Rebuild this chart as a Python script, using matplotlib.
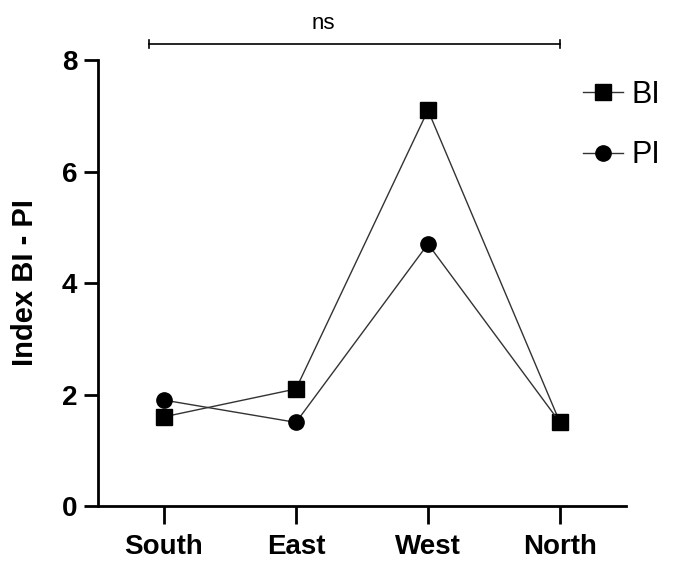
import matplotlib.pyplot as plt

plt.rcParams['font.family'] = ['Liberation Sans', 'DejaVu Sans']

# categories and series
regions = ['South', 'East', 'West', 'North']
bi = [1.6, 2.1, 7.1, 1.5]
pi = [1.9, 1.5, 4.7, 1.5]
x = list(range(len(regions)))

fig = plt.figure(figsize=(6.73, 5.61), dpi=100)
ax = fig.add_axes([0.1456, 0.098, 0.7845, 0.795])

ax.plot(x, bi, color='#333333', linewidth=1, marker='s', markersize=11,
        markerfacecolor='black', markeredgecolor='black', label='BI', clip_on=False)
ax.plot(x, pi, color='#333333', linewidth=1, marker='o', markersize=11,
        markerfacecolor='black', markeredgecolor='black', label='PI', clip_on=False)

ax.set_xlim(-0.5, 3.5)
ax.set_ylim(0, 8)
ax.set_xticks(x)
ax.set_xticklabels(regions, fontsize=20, fontweight='bold')
ax.set_yticks([0, 2, 4, 6, 8])
ax.set_yticklabels(['0', '2', '4', '6', '8'], fontsize=20, fontweight='bold')
ax.set_ylabel('Index BI - PI', fontsize=21, fontweight='bold', labelpad=16)

for side in ['top', 'right']:
    ax.spines[side].set_visible(False)
for side in ['left', 'bottom']:
    ax.spines[side].set_linewidth(2)
ax.tick_params(axis='y', direction='out', length=10, width=2, pad=5)
ax.tick_params(axis='x', direction='out', length=13, width=2, pad=7)

# significance bracket
ax.plot([-0.11, 3], [8.29, 8.29], color='black', linewidth=1.2, clip_on=False)
for xe in [-0.11, 3]:
    ax.plot([xe, xe], [8.22, 8.36], color='black', linewidth=1.2, clip_on=False)
ax.text(1.21, 8.66, 'ns', fontsize=16, ha='center', va='center')

leg = ax.legend(loc='upper left', bbox_to_anchor=(0.866, 0.858), bbox_transform=fig.transFigure,
                frameon=False, fontsize=22, handlelength=1.3, labelspacing=1.0,
                handletextpad=0.3, borderaxespad=0, borderpad=0)

fig.savefig('out.png', dpi=100)
